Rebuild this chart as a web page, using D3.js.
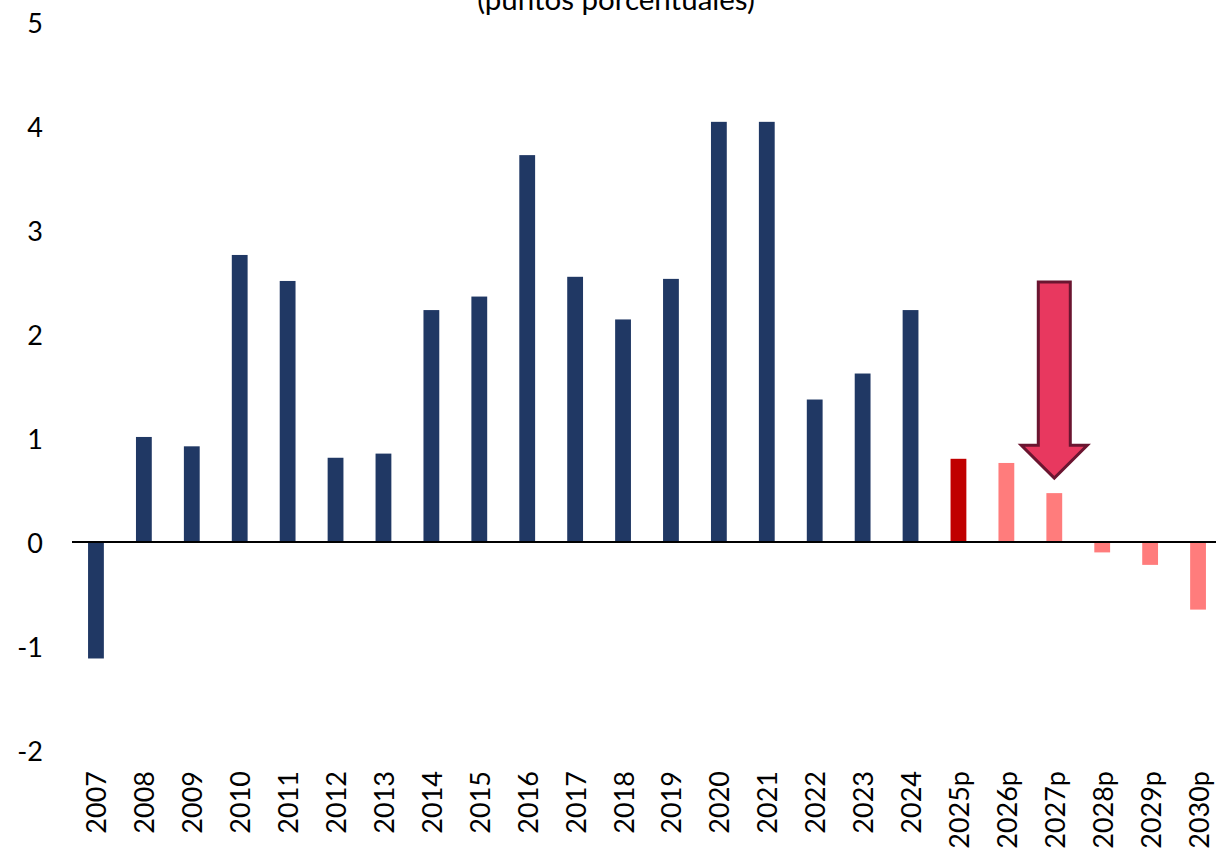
<!DOCTYPE html>
<html>
<head>
<meta charset="utf-8">
<script src="https://cdn.jsdelivr.net/npm/d3@7"></script>
<style>
  body { margin: 0; background: #fff; }
  text { font-family: Lato, "Open Sans", sans-serif; fill: #000; }
</style>
</head>
<body>
<div id="chart"></div>
<script>
const years = ["2007","2008","2009","2010","2011","2012","2013","2014","2015","2016","2017","2018",
  "2019","2020","2021","2022","2023","2024","2025p","2026p","2027p","2028p","2029p","2030p"];
const values = [-1.12, 1.01, 0.92, 2.76, 2.51, 0.81, 0.85, 2.23, 2.36, 3.72, 2.55, 2.14,
  2.53, 4.04, 4.04, 1.37, 1.62, 2.23, 0.80, 0.76, 0.47, -0.10, -0.22, -0.65];
const yTicks = [5, 4, 3, 2, 1, 0, -1, -2];
const title = "(puntos porcentuales)";

const width = 1216, height = 858;

const svg = d3.select("#chart")
  .append("svg")
  .attr("width", width)
  .attr("height", height);

const x = d3.scaleBand().domain(years).range([72, 1222]).paddingInner(0.67).paddingOuter(0.335);
const y = d3.scaleLinear().domain([-2, 5]).range([750, 22]);

const color = d => {
  if (d.year === "2025p") return "#C00000";
  if (d.year.endsWith("p")) return "#FF7C7C";
  return "#203864";
};

const data = years.map((yr, i) => ({year: yr, value: values[i]}));

// title (cut at the top like the original)
svg.append("text")
  .attr("x", 616)
  .attr("y", 10)
  .attr("text-anchor", "middle")
  .attr("font-size", "29.5px")
  .text(title);

// bars
svg.selectAll(".bar")
  .data(data)
  .enter()
  .append("rect")
  .attr("x", d => x(d.year))
  .attr("y", d => y(Math.max(0, d.value)))
  .attr("width", x.bandwidth())
  .attr("height", d => Math.abs(y(d.value) - y(0)))
  .attr("fill", d => color(d));

// zero line
svg.append("line")
  .attr("x1", 72).attr("x2", width)
  .attr("y1", y(0)).attr("y2", y(0))
  .attr("stroke", "#000")
  .attr("stroke-width", 2);

// y labels
svg.selectAll(".ytick")
  .data(yTicks)
  .enter()
  .append("text")
  .attr("x", 43)
  .attr("y", d => y(d))
  .attr("text-anchor", "end")
  .attr("dominant-baseline", "central")
  .attr("font-size", "27px")
  .text(d => d);

// x labels, rotated
svg.selectAll(".xtick")
  .data(years)
  .enter()
  .append("text")
  .attr("transform", d => `translate(${x(d) + x.bandwidth() / 2},771) rotate(-90)`)
  .attr("text-anchor", "end")
  .attr("dominant-baseline", "central")
  .attr("font-size", "27px")
  .text(d => d);

// arrow annotation over 2027p
const cx = x("2027p") + x.bandwidth() / 2;
const shaftHalf = 16, headHalf = 33;
const yTop = y(2.5), yHead = y(0.93), yTip = y(0.615);
const arrow = [
  [cx - shaftHalf, yTop], [cx + shaftHalf, yTop], [cx + shaftHalf, yHead],
  [cx + headHalf, yHead], [cx, yTip], [cx - headHalf, yHead], [cx - shaftHalf, yHead]
];
svg.append("path")
  .attr("d", d3.line()(arrow) + "Z")
  .attr("fill", "#E8385F")
  .attr("stroke", "#6B1530")
  .attr("stroke-width", 3)
  .attr("stroke-linejoin", "miter");
</script>
</body>
</html>
